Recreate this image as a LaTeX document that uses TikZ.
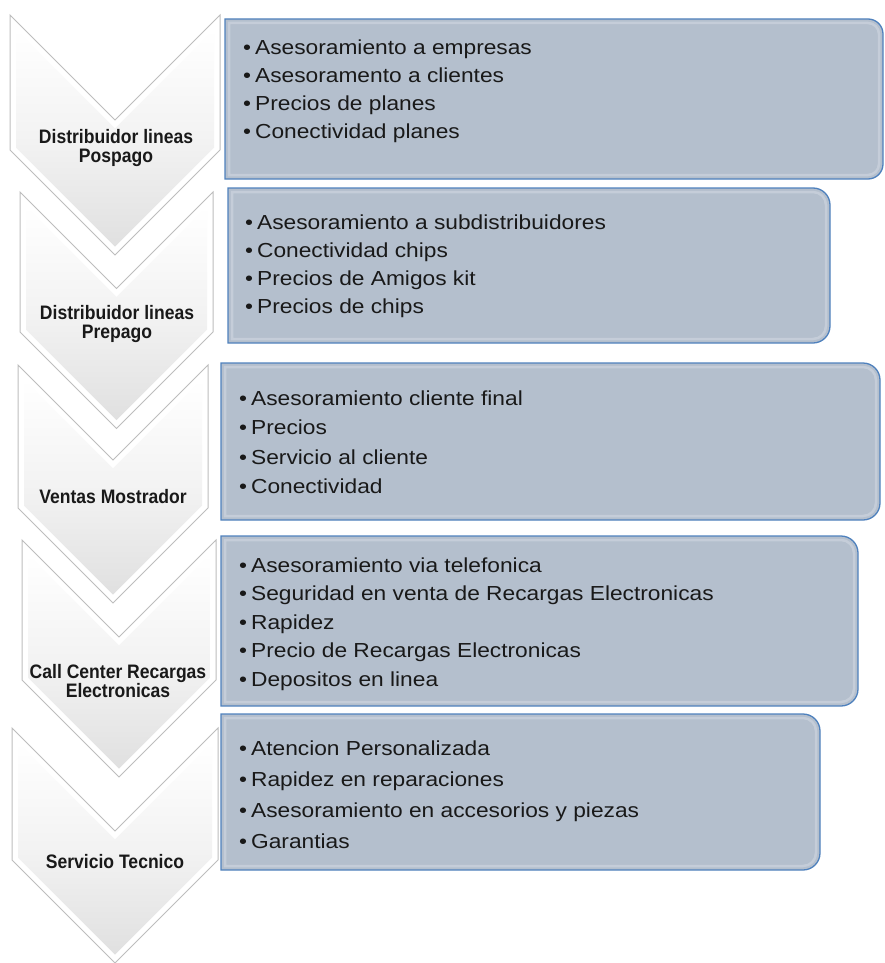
\documentclass[tikz,border=0pt]{standalone}
\usepackage{fontspec}
\setmainfont{Liberation Sans}
\newfontfamily\boxfont[FakeStretch=1.12]{Liberation Sans}
\newfontfamily\chevfont[FakeStretch=0.9]{Liberation Sans}
\definecolor{boxfill}{HTML}{B4BFCD}
\definecolor{boxedge}{HTML}{4F81BD}
\definecolor{boxlight}{HTML}{D3DAE3}
\definecolor{chevgray}{HTML}{BDBDBD}
\definecolor{chevshade}{HTML}{E0E0E0}
\tikzset{
  chevout/.style={fill=white, draw=chevgray, line width=1pt, line join=miter},
  chevin/.style={top color=white, bottom color=chevshade, middle color=white!60!chevshade},
  boxbody/.style={fill=boxfill, draw=boxedge, line width=1.3pt},
  boxbevel/.style={draw=boxlight, line width=2.5pt, opacity=0.55},
  itemtext/.style={anchor=base west, inner sep=0pt, text=black!90,
    font=\boxfont\fontsize{20.3}{24}\selectfont},
  chevtext/.style={align=center, inner sep=0pt, text=black!90,
    font=\chevfont\bfseries\fontsize{19.5}{19}\selectfont},
}
% chevron: L R T S
\newcommand\chevshape[4]{%
  \pgfmathsetmacro\chhw{(#2-#1)/2}%
  \pgfmathsetmacro\chmx{(#1+#2)/2}%
  \pgfmathsetmacro\chd{6}%
  \draw[chevout] (#1,#3) -- (\chmx,#3+\chhw) -- (#2,#3) -- (#2,#3+#4)
     -- (\chmx,#3+#4+\chhw) -- (#1,#3+#4) -- cycle;
  \shade[chevin] (#1+\chd,#3+\chd*2.414) -- (\chmx,#3+\chhw+\chd*1.414)
     -- (#2-\chd,#3+\chd*2.414) -- (#2-\chd,#3+#4+\chd-\chd*1.414)
     -- (\chmx,#3+#4+\chhw-\chd*1.414) -- (#1+\chd,#3+#4+\chd-\chd*1.414) -- cycle;
}
% box: L T R B radius
\newcommand\roundbox[5]{%
  \path[boxbody] (#1,#2) -- (#3-#5,#2) arc[start angle=-90,end angle=0,radius=#5]
     -- (#3,#4-#5) arc[start angle=0,end angle=90,radius=#5] -- (#1,#4) -- cycle;
  \path[boxbevel] (#1+4,#2+4) -- (#3-#5,#2+4) arc[start angle=-90,end angle=0,radius=#5-4]
     -- (#3-4,#4-#5) arc[start angle=0,end angle=90,radius=#5-4] -- (#1+4,#4-4) -- cycle;
}
\begin{document}
\begin{tikzpicture}[x=1pt,y=-1pt]
\useasboundingbox (0,0) rectangle (884,963);

% chevrons
\chevshape{10}{220}{15}{135}
\chevshape{20}{213}{192}{140}
\chevshape{18}{208}{365}{143}
\chevshape{22}{216}{540}{140}
\chevshape{12}{218}{728}{132}

\node[chevtext] (c1) at (116,148) {Distribuidor lineas\\Pospago};
\node[chevtext] (c2) at (117,324) {Distribuidor lineas\\Prepago};
\node[chevtext] (c3) at (113,497) {Ventas Mostrador};
\node[chevtext] (c4) at (118,681) {Call Center Recargas\\Electronicas};
\node[chevtext] (c5) at (115,862) {Servicio Tecnico};

% boxes
\roundbox{225}{19}{883}{179}{15}
\roundbox{228}{188}{830}{343}{17}
\roundbox{221}{363}{880}{520}{17}
\roundbox{221}{536}{858}{706}{17}
\roundbox{221}{714}{820}{870}{17}

\foreach \t [count=\i] in {Asesoramiento a empresas, Asesoramento a clientes,
   Precios de planes, Conectividad planes}
  \node[itemtext] (bA\i) at (243,55+28*\i-28) {•\hspace{4pt}\t};
\foreach \t [count=\i] in {Asesoramiento a subdistribuidores, Conectividad chips,
   Precios de Amigos kit, Precios de chips}
  \node[itemtext] (bB\i) at (245,229+28*\i-28) {•\hspace{4pt}\t};
\foreach \t [count=\i] in {Asesoramiento cliente final, Precios,
   Servicio al cliente, Conectividad}
  \node[itemtext] (bC\i) at (239,405+29.5*\i-29.5) {•\hspace{4pt}\t};
\foreach \t [count=\i] in {Asesoramiento via telefonica,
   Seguridad en venta de Recargas Electronicas, Rapidez,
   Precio de Recargas Electronicas, Depositos en linea}
  \node[itemtext] (bD\i) at (239,572+28.5*\i-28.5) {•\hspace{4pt}\t};
\foreach \t [count=\i] in {Atencion Personalizada, Rapidez en reparaciones,
   Asesoramiento en accesorios y piezas, Garantias}
  \node[itemtext] (bE\i) at (239,755+31*\i-31) {•\hspace{4pt}\t};
\end{tikzpicture}
\end{document}
